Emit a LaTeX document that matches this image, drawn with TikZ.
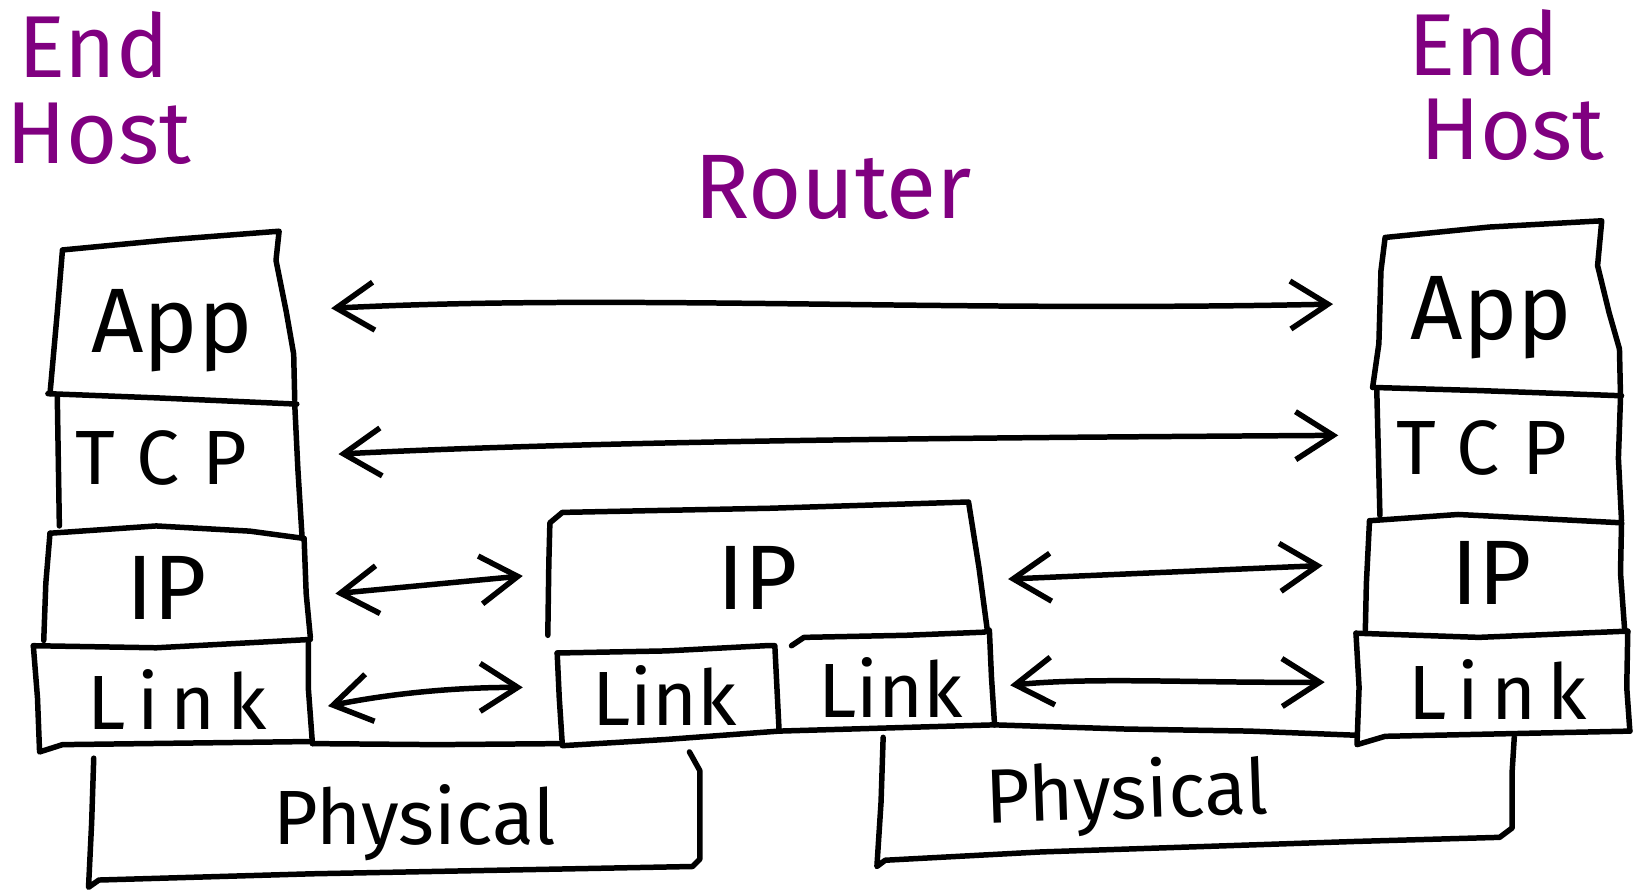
\documentclass[tikz,border=0pt]{standalone}
\usepackage{fontspec}
\setmainfont{Fira Sans}
\usetikzlibrary{arrows.meta}
\definecolor{ink}{RGB}{0,0,0}
\definecolor{hostpurple}{RGB}{128,0,128}
\begin{document}
\begin{tikzpicture}[x=0.01cm,y=-0.01cm,
  pen/.style={draw=ink, line width=1.5pt, line join=round, line cap=round},
  tipbarb/.tip={Straight Barb[length=3.6mm,width=4.6mm,line width=1.5pt]},
  biarrow/.style={pen, tipbarb-tipbarb},
  layer/.style={inner sep=0pt, text=ink},
  big/.style={layer, font=\fontsize{25}{25}\selectfont},
  mid/.style={layer, font=\fontsize{21}{21}\selectfont},
  spaced/.style={font=\fontsize{21}{21}\selectfont\addfontfeature{LetterSpace=#1}},
  tag/.style={inner sep=0pt, text=hostpurple, font=\fontsize{24}{24}\selectfont}
]
\useasboundingbox (0,0) rectangle (1568,857);

% ---------- left end host stack ----------
\draw[pen] (48,378) -- (55,300) -- (60,240) -- (165,230) -- (268,222)
           -- (265,250) -- (275,300) -- (282,340) -- (283,384);
\draw[pen] (46,378) -- (150,382) -- (285,388);
\draw[pen] (55,380) -- (57,505);
\draw[pen] (283,388) -- (286,450) -- (290,515);
\draw[pen] (48,512) -- (150,505) -- (240,510) -- (292,517);
\draw[pen] (48,512) -- (44,560) -- (42,615);
\draw[pen] (292,517) -- (294,570) -- (298,612);
\draw[pen] (32,620) -- (150,622) -- (298,614);
\draw[pen] (32,620) -- (36,670) -- (38,722) -- (60,715) -- (298,712);
\draw[pen] (296,614) -- (296,660) -- (300,714);
\draw[pen] (300,714) -- (420,715) -- (540,714);

% ---------- left physical ----------
\draw[pen] (90,728) -- (88,790) -- (85,852) -- (95,845) -- (300,839) -- (665,832) -- (672,825)
           -- (672,740) -- (662,722);

% ---------- router ----------
\draw[pen] (526,610) -- (527,540) -- (528,502) -- (540,492) -- (740,488) -- (930,482)
           -- (940,545) -- (948,605);
\draw[pen] (535,627) -- (640,625) -- (735,620) -- (744,620) -- (746,660) -- (748,700);
\draw[pen] (535,627) -- (537,670) -- (540,716) -- (640,710) -- (748,702) -- (955,696);
\draw[pen] (760,620) -- (772,612) -- (870,610) -- (945,607) -- (950,605) -- (952,650) -- (955,696);
\draw[pen] (955,696) -- (1080,700) -- (1200,702) -- (1303,706);

% ---------- right physical ----------
\draw[pen] (848,708) -- (846,770) -- (842,832) -- (850,826) -- (1000,818) -- (1300,808)
           -- (1440,804) -- (1452,795) -- (1452,740) -- (1454,708);

% ---------- right end host stack ----------
\draw[pen] (1318,372) -- (1324,330) -- (1326,260) -- (1330,228) -- (1430,218) -- (1538,212)
           -- (1534,255) -- (1545,300) -- (1555,335) -- (1556,380);
\draw[pen] (1318,372) -- (1420,375) -- (1557,380);
\draw[pen] (1322,375) -- (1325,495);
\draw[pen] (1556,382) -- (1554,440) -- (1557,500);
\draw[pen] (1315,500) -- (1400,494) -- (1480,498) -- (1557,502);
\draw[pen] (1315,500) -- (1312,560) -- (1311,605);
\draw[pen] (1557,502) -- (1556,550) -- (1560,605);
\draw[pen] (1302,608) -- (1420,612) -- (1563,606);
\draw[pen] (1302,608) -- (1305,660) -- (1303,715) -- (1330,707) -- (1565,702);
\draw[pen] (1563,606) -- (1562,660) -- (1565,702);

% ---------- layer names ----------
\node[big] (appL)  at (165,318) {App};
\node[mid, spaced=30] (tcpL)  at (155,440) {TCP};
\node[big] (ipL)   at (160,565) {IP};
\node[mid, spaced=15] (linkL) at (170,672) {Link};
\node[mid] (phyL)  at (398,790) {Physical};

\node[big] (ipR)    at (727,555) {IP};
\node[mid] (linkRa) at (638,668) {Link};
\node[mid] (linkRb) at (855,660) {Link};
\node[mid, rotate=2] (phyR) at (1082,765) {Physical};

\node[big] (appE)  at (1432,305) {App};
\node[mid, spaced=30] (tcpE)  at (1423,430) {TCP};
\node[big] (ipE)   at (1432,550) {IP};
\node[mid, spaced=15] (linkE) at (1438,662) {Link};

% ---------- titles ----------
\node[tag] (endL)  at (90,43)   {End};
\node[tag] (hostL) at (95,128)  {Host};
\node[tag] (endR)  at (1425,41) {End};
\node[tag] (hostR) at (1452,125) {Host};
\node[tag, font=\fontsize{25}{25}\selectfont] (router) at (800,180) {Router};

% ---------- peer exchanges ----------
\coordinate (a1) at (318,296);  \coordinate (a2) at (1280,292);
\coordinate (t1) at (325,436);  \coordinate (t2) at (1285,418);
\coordinate (i1) at (322,570);  \coordinate (i2) at (502,553);
\coordinate (i3) at (968,556);  \coordinate (i4) at (1270,543);
\coordinate (l1) at (315,678);  \coordinate (l2) at (502,660);
\coordinate (l3) at (970,658);  \coordinate (l4) at (1272,655);

\draw[biarrow] (a1) .. controls (600,282) and (900,300) .. (a2);
\draw[biarrow] (t1) .. controls (600,422) and (1000,420) .. (t2);
\draw[biarrow] (i1) -- (i2);
\draw[biarrow] (i3) -- (i4);
\draw[biarrow] (l1) .. controls (380,665) and (440,660) .. (l2);
\draw[biarrow] (l3) .. controls (1050,650) and (1150,656) .. (l4);
\end{tikzpicture}
\end{document}
